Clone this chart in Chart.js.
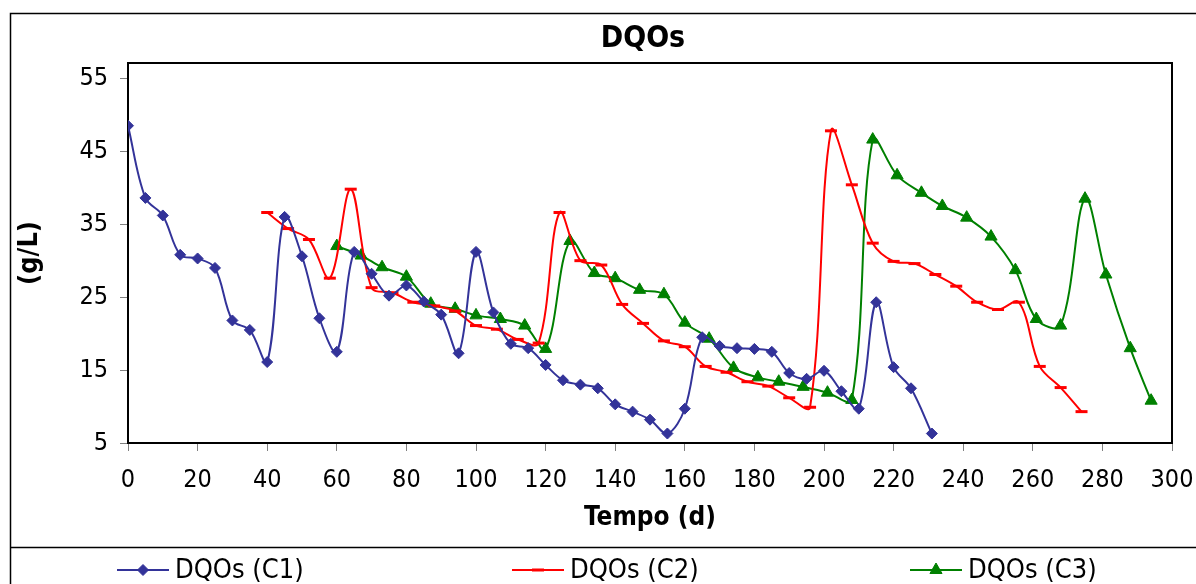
<!DOCTYPE html>
<html lang="pt">
<head>
  <meta charset="UTF-8" />
  <title>DQOs</title>
  <script src="https://cdn.jsdelivr.net/npm/chart.js"></script>
  <style>
    body {
      margin: 0;
      background: #ffffff;
    }
    canvas {
      display: block;
    }
  </style>
</head>
<body>
  <canvas id="dqoChart" width="1196" height="584"></canvas>

  <script>
    // Dias de amostragem e DQOs (g/L) de cada coluna
    const c1Days = [0, 5, 10, 15, 20, 25, 30, 35, 40, 45, 50, 55, 60, 65, 70, 75, 80, 85, 90, 95,
      100, 105, 110, 115, 120, 125, 130, 135, 140, 145, 150, 155, 160, 165, 170, 175, 180, 185,
      190, 195, 200, 205, 210, 215, 220, 225, 231];
    const c1Values = [48.5, 38.6, 36.2, 30.8, 30.3, 29.0, 21.8, 20.5, 16.1, 36.0, 30.6, 22.1, 17.5,
      31.2, 28.2, 25.2, 26.6, 24.4, 22.6, 17.3, 31.2, 22.9, 18.6, 18.0, 15.7, 13.6, 13.0, 12.5,
      10.3, 9.3, 8.2, 6.3, 9.7, 19.5, 18.3, 18.0, 17.9, 17.5, 14.6, 13.8, 14.9, 12.1, 9.7, 24.3,
      15.4, 12.5, 6.3];

    const c2Days = [40, 46, 52, 58, 64, 70, 76, 82, 88, 94, 100, 106, 112, 118, 124, 130, 136, 142,
      148, 154, 160, 166, 172, 178, 184, 190, 196, 202, 208, 214, 220, 226, 232, 238, 244, 250,
      256, 262, 268, 274];
    const c2Values = [36.6, 34.4, 32.9, 27.6, 39.8, 26.3, 25.6, 24.3, 23.8, 23.1, 21.1, 20.6, 19.2,
      18.7, 36.6, 30.0, 29.4, 24.0, 21.4, 19.0, 18.2, 15.5, 14.7, 13.4, 12.8, 11.2, 9.9, 47.8,
      40.4, 32.4, 29.9, 29.6, 28.1, 26.5, 24.3, 23.3, 24.3, 15.5, 12.6, 9.3];

    const c3Days = [60, 67, 73, 80, 87, 94, 100, 107, 114, 120, 127, 134, 140, 147, 154, 160, 167,
      174, 181, 187, 194, 201, 208, 214, 221, 228, 234, 241, 248, 255, 261, 268, 275, 281, 288, 294];
    const c3Values = [32.0, 30.7, 29.1, 27.8, 24.1, 23.4, 22.5, 22.0, 21.1, 17.9, 32.7, 28.3, 27.6,
      26.0, 25.4, 21.5, 19.3, 15.3, 14.0, 13.4, 12.7, 11.9, 10.9, 46.6, 41.7, 39.3, 37.5, 35.9,
      33.3, 28.7, 22.0, 21.1, 38.5, 28.1, 18.0, 10.8];

    const seriesNames = ["DQOs (C1)", "DQOs (C2)", "DQOs (C3)"];
    const xTicks = [0, 20, 40, 60, 80, 100, 120, 140, 160, 180, 200, 220, 240, 260, 280, 300];
    const yTicks = [5, 15, 25, 35, 45, 55];

    const FONT = '"DejaVu Sans Condensed", "DejaVu Sans", sans-serif';
    Chart.defaults.font.family = FONT;
    Chart.defaults.color = "#000";

    function toPoints(days, values) {
      return days.map((d, i) => ({ x: d, y: values[i] }));
    }

    // Moldura exterior, título e legenda desenhados à mão
    const framePlugin = {
      id: "frame",
      beforeDraw(chart) {
        const ctx = chart.ctx;
        ctx.save();
        ctx.fillStyle = "#fff";
        ctx.fillRect(0, 0, chart.width, chart.height);
        ctx.strokeStyle = "#000";
        ctx.lineWidth = 1.5;
        ctx.beginPath();
        ctx.moveTo(10.5, chart.height);
        ctx.lineTo(10.5, 13.5);
        ctx.lineTo(chart.width, 13.5);
        ctx.moveTo(10.5, 547.5);
        ctx.lineTo(chart.width, 547.5);
        ctx.stroke();
        ctx.restore();
      },
      afterDraw(chart) {
        const ctx = chart.ctx;
        const area = chart.chartArea;
        ctx.save();
        // caixa da área do gráfico (topo e direita)
        ctx.strokeStyle = "#000";
        ctx.lineWidth = 2;
        ctx.beginPath();
        ctx.moveTo(area.left, area.top);
        ctx.lineTo(area.right, area.top);
        ctx.lineTo(area.right, area.bottom);
        ctx.stroke();

        // título
        ctx.fillStyle = "#000";
        ctx.font = "bold 30px " + FONT;
        ctx.textAlign = "center";
        ctx.textBaseline = "middle";
        ctx.fillText("DQOs", 643, 39);

        // legenda
        const legendX = [117, 512, 910];
        const legendY = 570;
        ctx.font = "27px " + FONT;
        ctx.textAlign = "left";
        chart.data.datasets.forEach((ds, i) => {
          const x0 = legendX[i];
          ctx.strokeStyle = ds.borderColor;
          ctx.lineWidth = ds.borderWidth;
          ctx.beginPath();
          ctx.moveTo(x0, legendY);
          ctx.lineTo(x0 + 52, legendY);
          ctx.stroke();
          if (Chart.helpers && Chart.helpers.drawPoint) {
            ctx.fillStyle = ds.pointBackgroundColor;
            ctx.strokeStyle = ds.pointBorderColor;
            ctx.lineWidth = ds.pointBorderWidth;
            Chart.helpers.drawPoint(ctx, {
              pointStyle: ds.pointStyle,
              radius: ds.pointRadius,
              rotation: 0,
              borderWidth: ds.pointBorderWidth
            }, x0 + 26, legendY);
          }
          ctx.fillStyle = "#000";
          ctx.fillText(ds.label, x0 + 58, legendY + 1);
        });
        ctx.restore();
      }
    };

    new Chart(document.getElementById("dqoChart"), {
      type: "line",
      data: {
        datasets: [
          {
            label: seriesNames[0],
            data: toPoints(c1Days, c1Values),
            borderColor: "#333399",
            borderWidth: 2,
            pointStyle: "rectRot",
            pointRadius: 5.5,
            pointBackgroundColor: "#333399",
            pointBorderColor: "#333399",
            pointBorderWidth: 1,
            tension: 0.35
          },
          {
            label: seriesNames[1],
            data: toPoints(c2Days, c2Values),
            borderColor: "#ff0000",
            borderWidth: 2,
            pointStyle: "line",
            pointRadius: 6,
            pointBackgroundColor: "#ff0000",
            pointBorderColor: "#ff0000",
            pointBorderWidth: 3,
            tension: 0.35
          },
          {
            label: seriesNames[2],
            data: toPoints(c3Days, c3Values),
            borderColor: "#008000",
            borderWidth: 2,
            pointStyle: "triangle",
            pointRadius: 7,
            pointBackgroundColor: "#008000",
            pointBorderColor: "#008000",
            pointBorderWidth: 1,
            tension: 0.35
          }
        ]
      },
      options: {
        responsive: false,
        animation: false,
        devicePixelRatio: 1,
        layout: {
          padding: { left: 10, top: 63, right: 24, bottom: 37 }
        },
        plugins: {
          legend: { display: false },
          title: { display: false },
          tooltip: { enabled: false }
        },
        scales: {
          x: {
            type: "linear",
            min: 0,
            max: 300,
            afterBuildTicks: (scale) => {
              scale.ticks = xTicks.map(v => ({ value: v }));
            },
            afterFit: (scale) => {
              scale.height = 104;
              scale.paddingLeft = 0;
              scale.paddingRight = 0;
            },
            ticks: {
              autoSkip: false,
              maxRotation: 0,
              padding: 14,
              font: { size: 25 },
              color: "#000"
            },
            grid: {
              drawOnChartArea: false,
              tickLength: 8,
              tickColor: "#808080"
            },
            border: { color: "#000", width: 2 },
            title: {
              display: true,
              text: "Tempo (d)",
              font: { size: 26, weight: "bold" },
              padding: { top: 0, bottom: 13 }
            }
          },
          y: {
            min: 5,
            max: 57.1,
            afterBuildTicks: (scale) => {
              scale.ticks = yTicks.map(v => ({ value: v }));
            },
            afterFit: (scale) => {
              scale.width = 118;
            },
            ticks: {
              padding: 12,
              font: { size: 25 },
              color: "#000"
            },
            grid: {
              drawOnChartArea: false,
              tickLength: 8,
              tickColor: "#808080"
            },
            border: { color: "#000", width: 2 },
            title: {
              display: true,
              text: "(g/L)",
              font: { size: 27, weight: "bold" },
              padding: { top: 4, bottom: 0 }
            }
          }
        }
      },
      plugins: [framePlugin]
    });
  </script>
</body>
</html>
